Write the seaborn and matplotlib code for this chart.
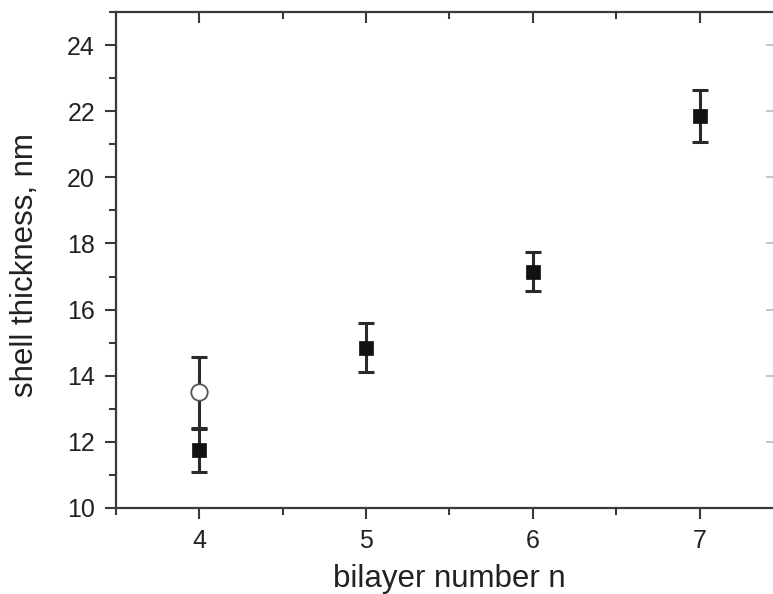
import matplotlib
matplotlib.use("Agg")
import matplotlib.pyplot as plt
import seaborn as sns
import pandas as pd
from matplotlib.ticker import MultipleLocator

sns.set_theme(style="white")
plt.rcParams['font.family'] = ['Liberation Sans', 'DejaVu Sans']

# data
bilayer_sq = [4, 5, 6, 7]
thick_sq = [11.75, 14.85, 17.15, 21.85]
err_sq = [0.65, 0.75, 0.6, 0.78]

bilayer_circ = [4]
thick_circ = [13.5]
err_circ = [1.08]

df_sq = pd.DataFrame({"n": bilayer_sq, "t": thick_sq, "e": err_sq})
df_c = pd.DataFrame({"n": bilayer_circ, "t": thick_circ, "e": err_circ})

fig = plt.figure(figsize=(7.73, 5.94), dpi=100)
ax = fig.add_axes([0.150, 0.1448, 0.863, 0.835])

c_axis = "#3a3a3a"
ax.errorbar(df_c["n"], df_c["t"], yerr=df_c["e"], fmt="none", ecolor="#2a2a2a",
            elinewidth=2.2, capsize=5.5, capthick=2.2, zorder=2)
ax.errorbar(df_sq["n"], df_sq["t"], yerr=df_sq["e"], fmt="none", ecolor="#2a2a2a",
            elinewidth=2.2, capsize=5.5, capthick=2.2, zorder=2)
sns.scatterplot(data=df_sq, x="n", y="t", marker="s", s=110, color="#111111",
                edgecolor="#111111", linewidth=0.5, ax=ax, zorder=3)
sns.scatterplot(data=df_c, x="n", y="t", marker="o", s=140, color="white",
                edgecolor="#555555", linewidth=1.3, ax=ax, zorder=3)

ax.set_xlim(3.5, 7.5)
ax.set_ylim(10, 25)
ax.xaxis.set_major_locator(MultipleLocator(1))
ax.xaxis.set_minor_locator(MultipleLocator(0.5))
ax.yaxis.set_major_locator(MultipleLocator(2))
ax.yaxis.set_minor_locator(MultipleLocator(1))

for s in ax.spines.values():
    s.set_color(c_axis)
    s.set_linewidth(1.6)

ax.tick_params(which="both", direction="out", color=c_axis, width=1.5,
               bottom=True, left=True, top=False, right=False)
ax.tick_params(which="major", length=8, labelsize=18, labelcolor="#222222", pad=7)
ax.tick_params(which="minor", length=5)
axr = ax.secondary_yaxis("right")
axr.yaxis.set_major_locator(MultipleLocator(2))
axr.yaxis.set_minor_locator(MultipleLocator(1))
axr.tick_params(which="both", direction="in", color="#bbbbbb", width=1.2, labelright=False)
axr.tick_params(which="major", length=12)
axr.tick_params(which="minor", length=5)
axt = ax.secondary_xaxis("top")
axt.xaxis.set_major_locator(MultipleLocator(1))
axt.xaxis.set_minor_locator(MultipleLocator(0.5))
axt.tick_params(which="both", direction="in", color=c_axis, width=1.5, labeltop=False)
axt.tick_params(which="major", length=8)
axt.tick_params(which="minor", length=5)
axr.spines["right"].set_visible(False)
axt.spines["top"].set_visible(False)

ax.set_xlabel("bilayer number n", fontsize=22.5, color="#222222", labelpad=8)
ax.set_ylabel("shell thickness, nm", fontsize=22.5, color="#222222", labelpad=10)
ax.yaxis.set_label_coords(-0.1145, 0.49)

fig.savefig("out.png", dpi=100, facecolor="white")
